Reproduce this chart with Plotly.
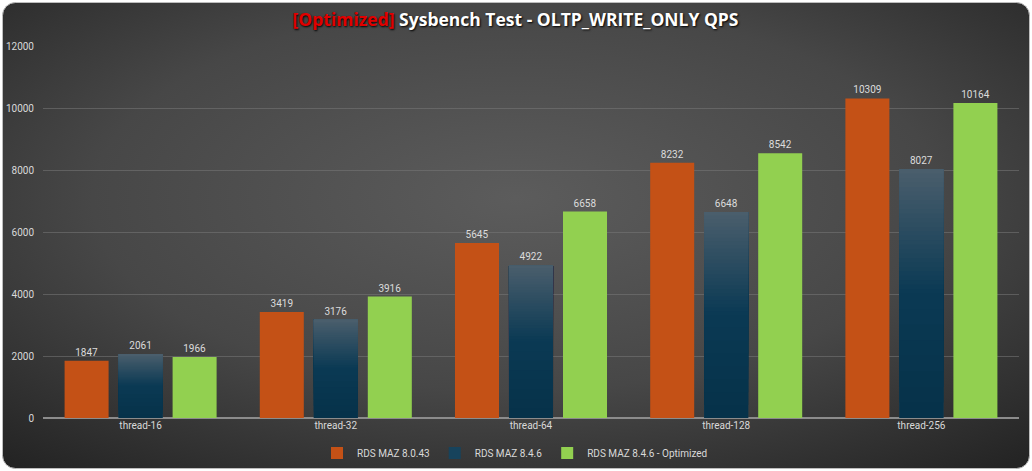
import base64
import plotly.graph_objects as go

categories = ["thread-16", "thread-32", "thread-64", "thread-128", "thread-256"]
rds_8043 = [1847, 3419, 5645, 8232, 10309]
rds_846 = [2061, 3176, 4922, 6648, 8027]
rds_846_opt = [1966, 3916, 6658, 8542, 10164]
series_names = ["RDS MAZ 8.0.43", "RDS MAZ 8.4.6", "RDS MAZ 8.4.6 - Optimized"]
y_ticks = [0, 2000, 4000, 6000, 8000, 10000, 12000]

W, H = 1032, 471
ML, MR, MT, MB = 43, 13, 46, 53
PW, PH = W - ML - MR, H - MT - MB

svg = f'''<svg xmlns="http://www.w3.org/2000/svg" width="{W}" height="{H}" viewBox="0 0 {W} {H}">
<defs><radialGradient id="g" cx="50%" cy="42%" r="75%">
<stop offset="0" stop-color="#5c5c5c"/><stop offset="0.55" stop-color="#474747"/><stop offset="1" stop-color="#242424"/>
</radialGradient></defs>
<rect x="2.5" y="2.5" width="{W-5}" height="{H-5}" rx="13" ry="13" fill="url(#g)" stroke="#bdbdbd" stroke-width="1"/>
</svg>'''
src = "data:image/svg+xml;base64," + base64.b64encode(svg.encode()).decode()

font_fam = "Roboto, Arial, sans-serif"
lbl = dict(color="#dcdcdc", size=10, family=font_fam)

# vertical gradient for the 8.4.6 bars (dark at bottom, lighter slate at top)
BOTTOM = (6, 50, 74)
MID = (11, 58, 84)
TOP = (76, 95, 109)
GRAD_START = 0.5
N_SEG = 28


def lerp(a, b, t):
    return [round(a[i] + (b[i] - a[i]) * t) for i in range(3)]


def rgb(c):
    return f"rgb({c[0]},{c[1]},{c[2]})"


fig = go.Figure()
fig.add_trace(go.Bar(x=categories, y=rds_8043, name=series_names[0], offsetgroup="a",
                     marker=dict(color="#c45116", line=dict(width=0)),
                     text=rds_8043, textposition="outside", textfont=lbl, cliponaxis=False))
fig.add_trace(go.Bar(x=categories, y=rds_846, name=series_names[1], offsetgroup="b",
                     marker=dict(color="#17435c", line=dict(width=0)), hoverinfo="skip"))
fig.add_trace(go.Bar(x=categories, y=rds_846_opt, name=series_names[2], offsetgroup="c",
                     marker=dict(color="#92d050", line=dict(width=0)),
                     text=rds_846_opt, textposition="outside", textfont=lbl, cliponaxis=False))

# bottom part: slowly varying dark navy
N_LOW = 8
for k in range(N_LOW):
    f = GRAD_START * k / N_LOW
    base = [v * f for v in rds_846]
    height = [v - b for v, b in zip(rds_846, base)]
    fig.add_trace(go.Bar(x=categories, y=height, base=base, offsetgroup="b", showlegend=False,
                         marker=dict(color=rgb(lerp(BOTTOM, MID, k / N_LOW)), line=dict(width=0)),
                         textposition="none", hoverinfo="skip"))
# top part: navy to slate
for k in range(N_SEG + 1):
    f = GRAD_START + (1 - GRAD_START) * k / N_SEG
    base = [v * f for v in rds_846]
    height = [v - b for v, b in zip(rds_846, base)]
    last = k == N_SEG
    fig.add_trace(go.Bar(
        x=categories, y=height, base=base, offsetgroup="b", showlegend=False,
        marker=dict(color=rgb(lerp(MID, TOP, k / N_SEG)), line=dict(width=0)),
        text=rds_846 if last else None, textposition="outside" if last else "none",
        textfont=lbl, cliponaxis=False, hoverinfo="skip"))

fig.update_layout(
    width=W, height=H,
    margin=dict(l=ML, r=MR, t=MT, b=MB, autoexpand=False),
    paper_bgcolor="white", plot_bgcolor="rgba(0,0,0,0)",
    barmode="group", bargap=0.17, bargroupgap=0.185,
    font=dict(family=font_fam, color="#d9d9d9", size=10),
    title=dict(
        text="<span style='color:#e00000'>[Optimized]</span> Sysbench Test - OLTP_WRITE_ONLY QPS",
        x=515.5 / W, xref="container", xanchor="center", y=1 - 20 / H, yanchor="middle",
        font=dict(family="Open Sans, Arial, sans-serif", size=17.5, color="#ffffff", weight="bold",
                  shadow="1px 1px 2px #000000"),
    ),
    xaxis=dict(showgrid=False, showline=False, ticks="", tickfont=dict(color="#d9d9d9", size=10),
               zeroline=False),
    yaxis=dict(range=[0, 12000], tickvals=y_ticks, tickformat="d", showgrid=True,
               gridcolor="rgba(120,120,120,0.55)",
               gridwidth=1, zeroline=True, zerolinecolor="#8c8c8c", zerolinewidth=1.5,
               showline=False, ticks="", ticklabelstandoff=8, tickfont=dict(color="#d9d9d9", size=10)),
    legend=dict(orientation="h", x=515 / W, xref="container", xanchor="center", yref="container",
                y=1 - 453 / H, yanchor="middle",
                font=dict(color="#d9d9d9", size=10), bgcolor="rgba(0,0,0,0)", itemwidth=30),
    images=[dict(source=src, xref="paper", yref="paper", x=-ML / PW, y=1 + MT / PH,
                 sizex=W / PW, sizey=H / PH, xanchor="left", yanchor="top",
                 sizing="stretch", layer="below")],
    showlegend=True,
)
fig.write_html("out.html", config={"displayModeBar": False},
               post_script="document.body.style.margin='0';document.body.style.overflow='hidden';")
